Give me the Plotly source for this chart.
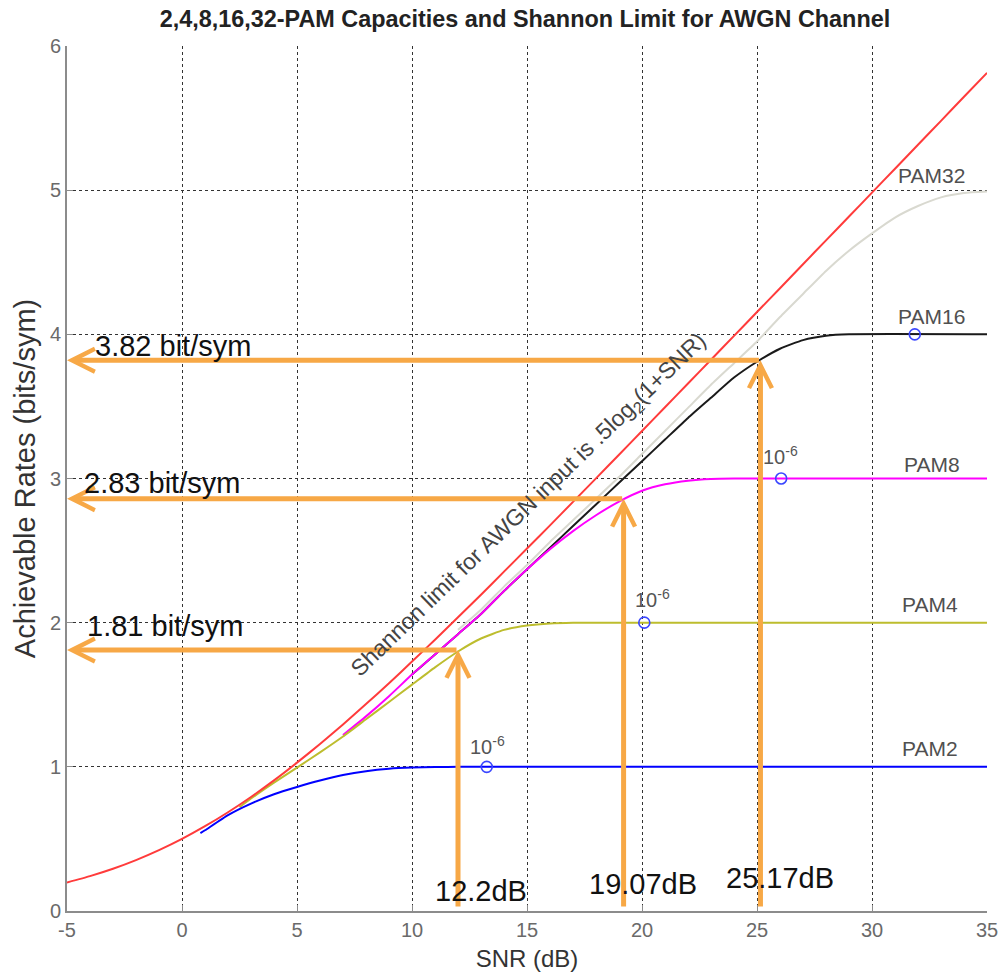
import plotly.graph_objects as go

# ---------------- data ----------------
shannon_snr = list(range(-5, 36))
shannon_rate = [0.198, 0.242, 0.293, 0.353, 0.422, 0.500, 0.588, 0.685, 0.791, 0.906,
                1.029, 1.158, 1.294, 1.435, 1.580, 1.730, 1.882, 2.037, 2.194, 2.354,
                2.514, 2.675, 2.838, 3.001, 3.165, 3.329, 3.494, 3.659, 3.824, 3.989,
                4.155, 4.320, 4.486, 4.652, 4.817, 4.983, 5.149, 5.315, 5.481, 5.648, 5.814]

pam2_snr = [0.8, 1, 2, 3, 4, 5, 6, 7, 8, 9, 10, 11, 12, 35]
pam2_rate = [0.54, 0.56, 0.665, 0.745, 0.81, 0.86, 0.905, 0.943, 0.970, 0.987, 0.995, 0.999, 1.0, 1.0]

pam4_snr = [2.5, 3, 4, 5, 6, 7, 8, 9, 10, 11, 12, 13, 14, 15, 16, 17, 35]
pam4_rate = [0.72, 0.78, 0.89, 0.995, 1.10, 1.21, 1.33, 1.45, 1.57, 1.69, 1.80, 1.89, 1.95, 1.98, 1.995, 2.0, 2.0]

pam8_snr = [7, 8, 9, 10, 11, 12, 13, 14, 15, 16, 17, 18, 19, 20, 21, 22, 23, 24, 35]
pam8_rate = [1.22, 1.35, 1.49, 1.64, 1.78, 1.92, 2.06, 2.22, 2.37, 2.51, 2.635, 2.745,
             2.84, 2.915, 2.96, 2.985, 2.997, 3.0, 3.0]

pam16_snr = [10, 11, 12, 13, 14, 15, 16, 17, 18, 19, 20, 21, 22, 23, 24, 25, 26, 27, 28, 29, 35]
pam16_rate = [1.64, 1.78, 1.92, 2.06, 2.22, 2.37, 2.52, 2.67, 2.82, 2.97, 3.12, 3.27, 3.42,
              3.56, 3.70, 3.81, 3.90, 3.96, 3.99, 4.0, 4.0]

pam32_snr = [12, 13, 14, 15, 16, 17, 18, 19, 20, 21, 22, 23, 24, 25, 26, 27, 28, 29, 30,
             31, 32, 33, 34, 35]
pam32_rate = [1.95, 2.09, 2.25, 2.40, 2.56, 2.71, 2.86, 3.01, 3.17, 3.33, 3.49, 3.65, 3.80,
              3.95, 4.12, 4.28, 4.44, 4.58, 4.70, 4.81, 4.89, 4.95, 4.98, 4.99]

# 10^-6 error-rate marks
ber_snr = [13.25, 20.1, 26.05, 31.86]
ber_rate = [1, 2, 3, 4]
ber_label_x = [13.27, 20.47, 26.02]
ber_label_y = [1.15, 2.17, 3.16]

# curve names and label positions
pam_names = ["PAM2", "PAM4", "PAM8", "PAM16", "PAM32"]
pam_label_x = [32.5, 32.5, 32.6, 32.6, 32.6]
pam_label_y = [1.13, 2.125, 3.10, 4.125, 5.10]

# orange operating-point arrows
arrow_snr = [12.0, 19.2, 25.15]
arrow_rate = [1.81, 2.86, 3.82]
rate_text = ["1.81 bit/sym", "2.83 bit/sym", "3.82 bit/sym"]
rate_text_x = [-4.22, -4.35, -3.87]
rate_text_y = [1.98, 2.97, 3.92]
snr_text = ["12.2dB", "19.07dB", "25.17dB"]
snr_text_x = [13.0, 20.03, 25.98]
snr_text_y = [0.14, 0.19, 0.23]

x_ticks = [-5, 0, 5, 10, 15, 20, 25, 30, 35]
y_ticks = [0, 1, 2, 3, 4, 5, 6]

# ---------------- figure ----------------
ORANGE = "#F7A846"
FONT = "Liberation Sans, Arial, sans-serif"
fig = go.Figure()

curves = [
    (pam32_snr, pam32_rate, "#D9D9D0"),
    (pam16_snr, pam16_rate, "#1a1a1a"),
    (pam8_snr, pam8_rate, "#FF00FF"),
    (pam4_snr, pam4_rate, "#BDBD2E"),
    (pam2_snr, pam2_rate, "#0000FF"),
    (shannon_snr, shannon_rate, "#FF3B3B"),
]
for xs, ys, col in curves:
    fig.add_trace(go.Scatter(x=xs, y=ys, mode="lines",
                             line=dict(color=col, width=2, shape="spline", smoothing=0.5),
                             showlegend=False, hoverinfo="skip"))

fig.add_trace(go.Scatter(x=ber_snr, y=ber_rate, mode="markers",
                         marker=dict(symbol="circle-open", size=11, color="#3a46ff", line=dict(width=1.6)),
                         showlegend=False, hoverinfo="skip"))

ann = []
for i in range(3):
    # horizontal arrow pointing to the y-axis
    ann.append(dict(x=-5, y=arrow_rate[i], ax=arrow_snr[i], ay=arrow_rate[i], xref="x", yref="y",
                    axref="x", ayref="y", showarrow=True, arrowhead=5, arrowsize=0.9,
                    arrowwidth=5, arrowcolor=ORANGE, text="", standoff=0))
    # vertical arrow pointing up to the curve
    ann.append(dict(x=arrow_snr[i], y=arrow_rate[i], ax=arrow_snr[i], ay=0.02, xref="x", yref="y",
                    axref="x", ayref="y", showarrow=True, arrowhead=5, arrowsize=0.9,
                    arrowwidth=5, arrowcolor=ORANGE, text="", standoff=0))
for i in range(3):
    ann.append(dict(x=rate_text_x[i], y=rate_text_y[i], text=rate_text[i], showarrow=False,
                    xanchor="left", yanchor="middle",
                    font=dict(family=FONT, size=29, color="#111111")))
    ann.append(dict(x=snr_text_x[i], y=snr_text_y[i], text=snr_text[i], showarrow=False,
                    xanchor="center", yanchor="middle",
                    font=dict(family=FONT, size=29, color="#111111")))
for i in range(3):
    ann.append(dict(x=ber_label_x[i], y=ber_label_y[i], text="10<sup>-6</sup>", showarrow=False,
                    font=dict(family=FONT, size=20, color="#555555")))
for i in range(5):
    ann.append(dict(x=pam_label_x[i], y=pam_label_y[i], text=pam_names[i], showarrow=False,
                    font=dict(family=FONT, size=21, color="#505050")))
ann.append(dict(x=15.09, y=2.81, text="Shannon limit for AWGN input is .5log<sub>2</sub>(1+SNR)",
                showarrow=False, textangle=-44,
                font=dict(family=FONT, size=23, color="#444444")))

axis_common = dict(showgrid=True, gridcolor="#333333", griddash="dot", gridwidth=1.3,
                   showline=True, linecolor="#8c8c8c", linewidth=2, ticks="inside", ticklen=6,
                   tickcolor="#8c8c8c", zeroline=False, automargin=False,
                   tickfont=dict(family=FONT, size=20, color="#6a6a6a"))

fig.update_layout(
    width=1002, height=979,
    margin=dict(l=67, r=15, t=46, b=68),
    paper_bgcolor="white", plot_bgcolor="white",
    title=dict(text="2,4,8,16,32-PAM Capacities and Shannon Limit for AWGN Channel",
               x=525 / 1002, xref="container", xanchor="center",
               y=1 - 19 / 979, yanchor="middle",
               font=dict(family=FONT, size=23.4, color="#222222", weight="bold")),
    xaxis=dict(range=[-5, 35], tickvals=x_ticks, ticktext=[str(v) for v in x_ticks],
               title=dict(text="SNR (dB)", standoff=10,
                          font=dict(family=FONT, size=24, color="#333333")),
               **axis_common),
    yaxis=dict(range=[0, 6], tickvals=y_ticks, ticktext=[str(v) for v in y_ticks],
               title=dict(text="Achievable Rates (bits/sym)", standoff=6,
                          font=dict(family=FONT, size=29, color="#333333")),
               **axis_common),
    annotations=ann,
)

fig.write_html("out.html")
